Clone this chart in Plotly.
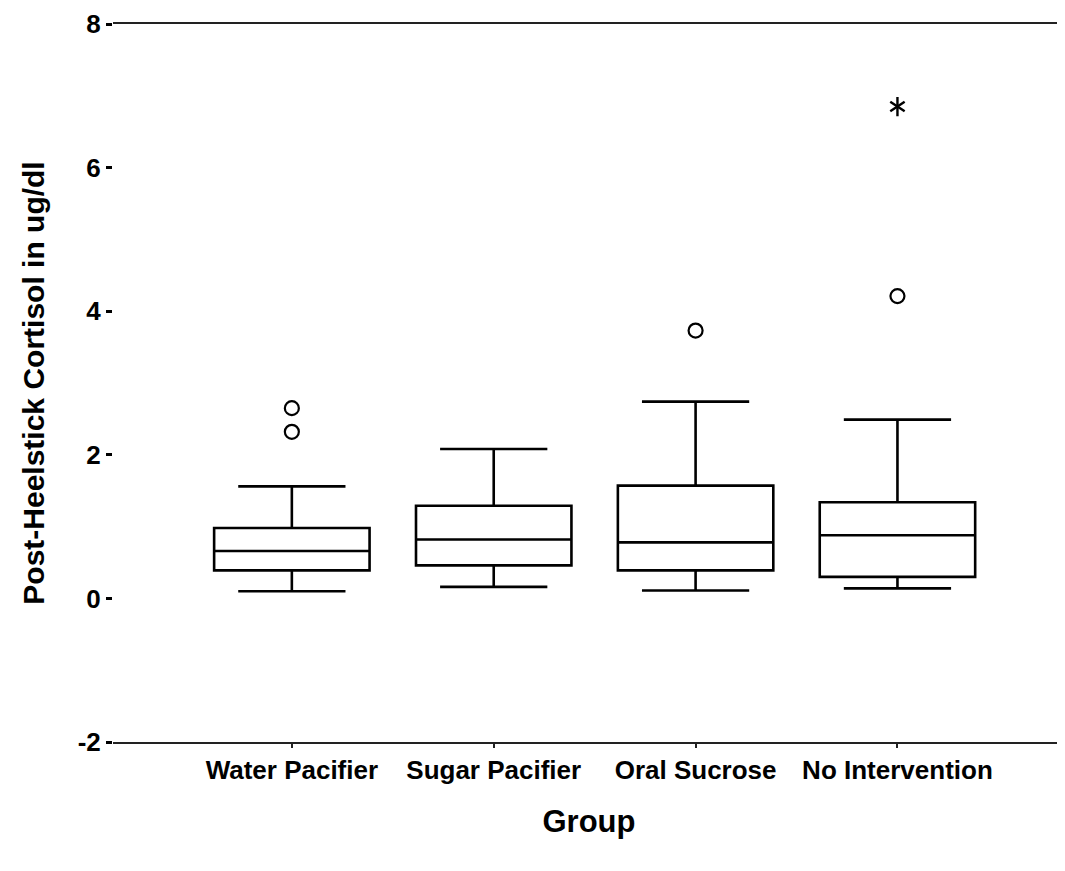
import plotly.graph_objects as go

groups = ["Water Pacifier", "Sugar Pacifier", "Oral Sucrose", "No Intervention"]
lower_whisker = [0.10, 0.16, 0.11, 0.14]
q1 = [0.39, 0.46, 0.39, 0.30]
median = [0.66, 0.82, 0.78, 0.88]
q3 = [0.98, 1.29, 1.57, 1.34]
upper_whisker = [1.56, 2.08, 2.74, 2.49]

outlier_groups = ["Water Pacifier", "Water Pacifier", "Oral Sucrose", "No Intervention"]
outlier_values = [2.65, 2.32, 3.73, 4.21]

extreme_groups = ["No Intervention"]
extreme_values = [6.85]

y_ticks = [-2, 0, 2, 4, 6, 8]

FONT = "Liberation Sans, Arial, sans-serif"

fig = go.Figure()
fig.add_trace(go.Box(
    x=groups, q1=q1, median=median, q3=q3,
    lowerfence=lower_whisker, upperfence=upper_whisker,
    fillcolor="white", line=dict(color="black", width=2.6),
    whiskerwidth=0.69, width=0.77, boxpoints=False, showlegend=False,
    hoverinfo="skip",
))
fig.add_trace(go.Scatter(
    x=outlier_groups, y=outlier_values, mode="markers",
    marker=dict(symbol="circle-open", size=14, color="black", line=dict(width=2.2, color="black")),
    showlegend=False,
))
# six-armed asterisk built from two Y-shaped markers on the same extreme point
for sym in ["y-up-open", "y-down-open"]:
    fig.add_trace(go.Scatter(
        x=extreme_groups, y=extreme_values, mode="markers",
        marker=dict(symbol=sym, size=12, color="black", line=dict(width=2.4, color="black")),
        showlegend=False,
    ))

fig.update_layout(
    width=1057, height=855,
    margin=dict(l=105, r=0, t=16, b=121),
    plot_bgcolor="white", paper_bgcolor="white",
    font=dict(family=FONT, color="black", weight="bold"),
    xaxis=dict(
        type="category", categoryorder="array", categoryarray=groups,
        range=[-0.886, 3.83],
        showline=True, mirror=True, linecolor="#222", linewidth=1.8,
        ticks="outside", ticklen=4, tickwidth=1.5, tickcolor="#222",
        showgrid=False, zeroline=False,
        tickfont=dict(size=26, family=FONT, weight="bold"),
        title=dict(text="Group", font=dict(size=31, family=FONT, weight="bold"), standoff=26),
    ),
    yaxis=dict(
        range=[-2, 8], tickvals=y_ticks, ticktext=[str(v) for v in y_ticks],
        showline=False, showgrid=False, zeroline=False,
        ticks="outside", ticklen=6, tickwidth=2.5, tickcolor="black",
        tickfont=dict(size=26, family=FONT, weight="bold"),
        title=dict(text="Post-Heelstick Cortisol in ug/dl", font=dict(size=30, family=FONT, weight="bold"), standoff=24),
    ),
)

fig.write_html("out.html")
